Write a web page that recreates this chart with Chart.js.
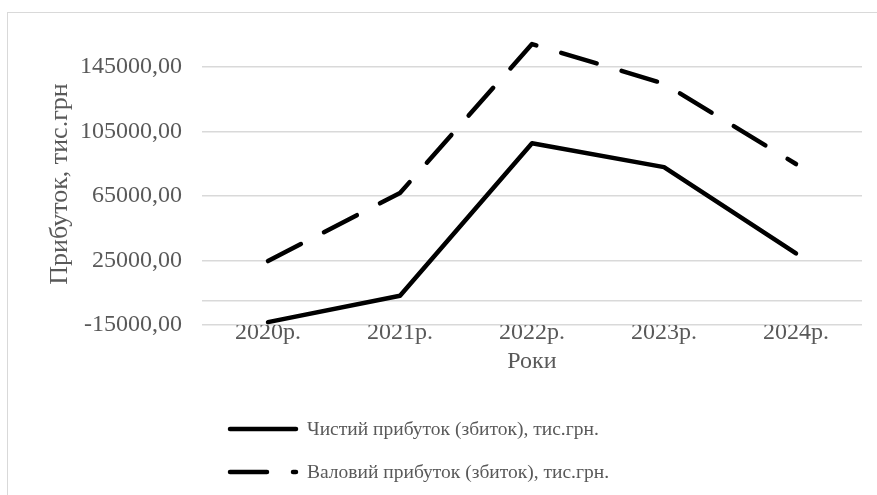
<!DOCTYPE html>
<html lang="uk">
<head>
    <meta charset="UTF-8">
    <title>Прибуток, тис.грн</title>
    <style>
        html, body {
            margin: 0;
            padding: 0;
            background: #ffffff;
            overflow: hidden;
        }
        .wrap {
            position: relative;
            width: 877px;
            height: 495px;
            overflow: hidden;
        }
        .frame {
            position: absolute;
            left: 7px;
            top: 12px;
            width: 900px;
            height: 520px;
            border: 1px solid #d9d9d9;
            pointer-events: none;
        }
        canvas {
            position: absolute;
            left: 0;
            top: 0;
        }
    </style>
</head>
<body>
    <div class="wrap">
        <div class="frame"></div>
        <canvas id="profitChart" width="877" height="495"></canvas>
    </div>

    <script src="https://cdn.jsdelivr.net/npm/chart.js"></script>
    <script>
        // Дані з графіка (тис. грн)
        const years = ['2020р.', '2021р.', '2022р.', '2023р.', '2024р.'];
        const netProfit = [-13200, 3100, 97600, 82800, 29300];
        const grossProfit = [24600, 66800, 159000, 134500, 84700];
        const yTicks = [-15000, 25000, 65000, 105000, 145000];

        const textColor = '#595959';
        const serif = "'Liberation Serif', 'Times New Roman', serif";
        const yTitle = 'Прибуток, тис.грн';

        // Легенда у стовпчик, як в Excel, і підпис осі Y
        const stackedLegend = {
            id: 'stackedLegend',
            afterDraw(chart) {
                const ctx = chart.ctx;
                const rows = [429, 472];
                chart.data.datasets.forEach((ds, i) => {
                    const y = rows[i];
                    ctx.save();
                    ctx.strokeStyle = ds.borderColor;
                    ctx.lineWidth = ds.borderWidth;
                    ctx.lineCap = 'round';
                    ctx.setLineDash(ds.borderDash || []);
                    ctx.beginPath();
                    ctx.moveTo(230, y);
                    ctx.lineTo(296, y);
                    ctx.stroke();
                    ctx.setLineDash([]);
                    ctx.fillStyle = textColor;
                    ctx.font = '19.5px ' + serif;
                    ctx.textAlign = 'left';
                    ctx.textBaseline = 'middle';
                    ctx.fillText(ds.label, 307, y + 1);
                    ctx.restore();
                });

                ctx.save();
                ctx.translate(60, 184);
                ctx.rotate(-Math.PI / 2);
                ctx.fillStyle = textColor;
                ctx.font = '26px ' + serif;
                ctx.textAlign = 'center';
                ctx.textBaseline = 'middle';
                ctx.fillText(yTitle, 0, 0);
                ctx.restore();
            }
        };

        const ctx = document.getElementById('profitChart').getContext('2d');
        new Chart(ctx, {
            type: 'line',
            data: {
                labels: years,
                datasets: [
                    {
                        label: 'Чистий прибуток (збиток), тис.грн.',
                        data: netProfit,
                        borderColor: '#000000',
                        borderWidth: 4.5,
                        borderCapStyle: 'round',
                        borderJoinStyle: 'round',
                        pointRadius: 0,
                        tension: 0
                    },
                    {
                        label: 'Валовий прибуток (збиток), тис.грн.',
                        data: grossProfit,
                        borderColor: '#000000',
                        borderWidth: 4.5,
                        borderDash: [37, 26],
                        borderCapStyle: 'round',
                        borderJoinStyle: 'round',
                        pointRadius: 0,
                        tension: 0
                    }
                ]
            },
            options: {
                responsive: false,
                animation: false,
                layout: {
                    padding: { left: 45, right: 15, top: 33, bottom: 119 }
                },
                scales: {
                    x: {
                        offset: true,
                        grid: { display: false },
                        border: { display: false },
                        ticks: {
                            color: textColor,
                            padding: -15,
                            font: { family: serif, size: 24 }
                        },
                        title: {
                            display: true,
                            text: 'Роки',
                            color: textColor,
                            padding: 0,
                            font: { family: serif, size: 24 }
                        },
                        afterFit(scale) { scale.height = 51; }
                    },
                    y: {
                        min: -15000,
                        max: 165000,
                        grid: {
                            color: '#d9d9d9',
                            lineWidth: 1.5,
                            drawTicks: false
                        },
                        border: { display: false },
                        ticks: {
                            color: textColor,
                            padding: 20,
                            font: { family: serif, size: 24 },
                            callback: (v) => v === 0 ? '' : v.toFixed(2).replace('.', ',')
                        },
                        afterBuildTicks(scale) {
                            // лінія нуля без підпису
                            scale.ticks = yTicks.concat([0]).sort((a, b) => a - b).map(v => ({ value: v }));
                        },
                        afterFit(scale) { scale.width = 157; }
                    }
                },
                plugins: {
                    legend: { display: false },
                    tooltip: { enabled: false }
                }
            },
            plugins: [stackedLegend]
        });
    </script>
</body>
</html>
